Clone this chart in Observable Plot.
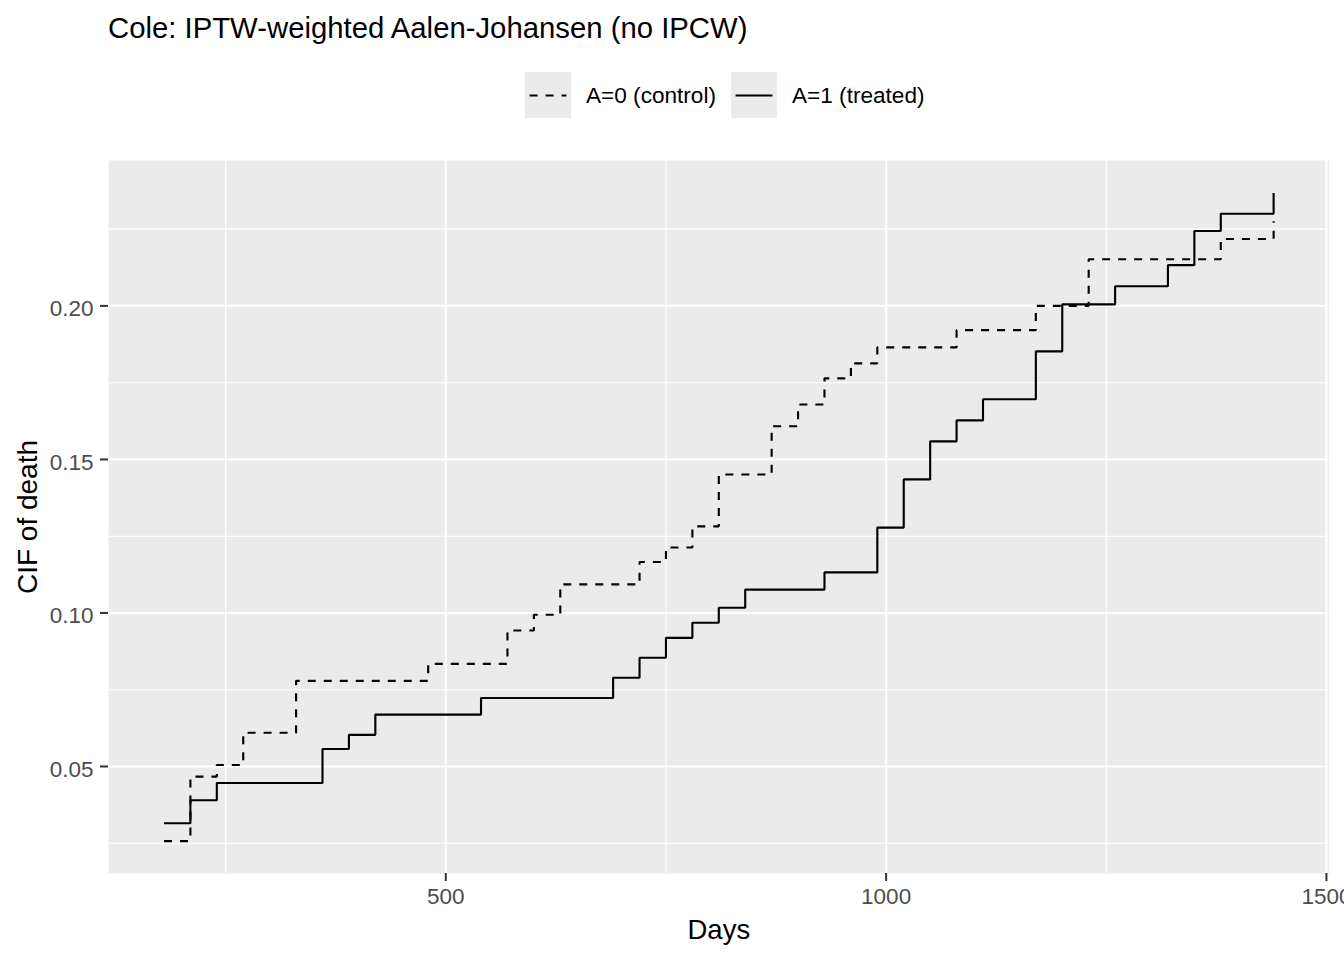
<!DOCTYPE html>
<html>
<head>
<meta charset="utf-8">
<script src="https://cdn.jsdelivr.net/npm/d3@7"></script>
<script src="https://cdn.jsdelivr.net/npm/@observablehq/plot@0.6"></script>
<style>
  html, body { margin: 0; padding: 0; background: #ffffff; }
  body { font-family: "Liberation Sans", Arial, sans-serif; }
  #wrap { position: relative; width: 1344px; height: 960px; overflow: hidden; background: #fff; }
  #header { position: relative; width: 1344px; height: 130px; }
  .t { position: absolute; white-space: nowrap; line-height: 1; color: #000; }
  .key { position: absolute; width: 46px; height: 46px; }
  #chart svg { display: block; }
  #ylab { position: absolute; white-space: nowrap; line-height: 1; color: #000; font-size: 28px;
          left: 27.8px; top: 516.5px; transform: translate(-50%, -50%) rotate(-90deg); }
</style>
</head>
<body>
<div id="wrap">
  <div id="header"></div>
  <div id="chart"></div>
  <div id="ylab"></div>
</div>
<script>
// ---- data ----
const titleText = "Cole: IPTW-weighted Aalen-Johansen (no IPCW)";
const xLabel = "Days";
const yLabel = "CIF of death";
const seriesNames = ["A=0 (control)", "A=1 (treated)"];

const controlDays = [180, 210, 240, 270, 330, 480, 570, 600, 630, 720, 750, 780, 810, 870, 900, 930, 960, 990, 1080, 1170, 1230, 1380, 1440];
const controlCif  = [0.0257, 0.0467, 0.0505, 0.0610, 0.0779, 0.0834, 0.0943, 0.0994, 0.1093, 0.1166, 0.1213, 0.1282, 0.1451, 0.1608, 0.1679, 0.1764, 0.1813, 0.1865, 0.1921, 0.2000, 0.2152, 0.2218, 0.2276];

const treatedDays = [180, 210, 240, 360, 390, 420, 540, 690, 720, 750, 780, 810, 840, 930, 990, 1020, 1050, 1080, 1110, 1170, 1200, 1260, 1320, 1350, 1380, 1440];
const treatedCif  = [0.0315, 0.0390, 0.0446, 0.0557, 0.0603, 0.0669, 0.0723, 0.0789, 0.0854, 0.0919, 0.0968, 0.1017, 0.1076, 0.1132, 0.1278, 0.1435, 0.1559, 0.1627, 0.1696, 0.1852, 0.2005, 0.2064, 0.2133, 0.2244, 0.2300, 0.2368];

const xBreaks = [500, 1000, 1500];
const xMinor = [250, 750, 1250];
const yBreaks = [0.05, 0.10, 0.15, 0.20];
const yMinor = [0.025, 0.075, 0.125, 0.175, 0.225];

// ---- tables built from the arrays ----
const control = controlDays.map((d, i) => ({day: d, cif: controlCif[i]}));
const treated = treatedDays.map((d, i) => ({day: d, cif: treatedCif[i]}));

function expand(vals) {
  const [a, b] = d3.extent(vals);
  const p = (b - a) * 0.05;
  return [a - p, b + p];
}
const xDomain = expand(controlDays.concat(treatedDays));
const yDomain = expand(controlCif.concat(treatedCif));

// ---- header: title + legend ----
const header = document.getElementById("header");
function addText(txt, left, top, size, color) {
  const el = document.createElement("div");
  el.className = "t";
  el.textContent = txt;
  el.style.left = left + "px";
  el.style.top = top + "px";
  el.style.fontSize = size + "px";
  el.style.color = color || "#000";
  header.appendChild(el);
  return el;
}
addText(titleText, 108, 13, 29.3, "#000");

function addKey(left, dashed) {
  const ns = "http://www.w3.org/2000/svg";
  const svg = document.createElementNS(ns, "svg");
  svg.setAttribute("class", "key");
  svg.setAttribute("width", 46);
  svg.setAttribute("height", 46);
  svg.style.left = left + "px";
  svg.style.top = "72px";
  const r = document.createElementNS(ns, "rect");
  r.setAttribute("width", 46); r.setAttribute("height", 46); r.setAttribute("fill", "#EBEBEB");
  svg.appendChild(r);
  const l = document.createElementNS(ns, "line");
  l.setAttribute("x1", 4.6); l.setAttribute("x2", 41.4);
  l.setAttribute("y1", 23.5); l.setAttribute("y2", 23.5);
  l.setAttribute("stroke", "#000"); l.setAttribute("stroke-width", 2.1);
  if (dashed) l.setAttribute("stroke-dasharray", "8,8");
  svg.appendChild(l);
  header.appendChild(svg);
}
addKey(525, true);
addText(seriesNames[0], 586, 85, 22.6, "#000");
addKey(731, false);
addText(seriesNames[1], 792, 85, 22.6, "#000");

document.getElementById("ylab").textContent = yLabel;

// ---- chart ----
const lw = 2.13;
const chart = Plot.plot({
  width: 1344,
  height: 830,
  marginTop: 30,
  marginBottom: 87,
  marginLeft: 108,
  marginRight: 15.4,
  style: {fontFamily: "'Liberation Sans', Arial, sans-serif", background: "#ffffff", overflow: "visible"},
  x: {domain: xDomain},
  y: {domain: yDomain},
  marks: [
    Plot.frame({fill: "#EBEBEB", stroke: null}),
    Plot.gridX(xMinor, {stroke: "#ffffff", strokeOpacity: 1, strokeWidth: 1.07}),
    Plot.gridY(yMinor, {stroke: "#ffffff", strokeOpacity: 1, strokeWidth: 1.07}),
    Plot.gridX(xBreaks, {stroke: "#ffffff", strokeOpacity: 1, strokeWidth: lw}),
    Plot.gridY(yBreaks, {stroke: "#ffffff", strokeOpacity: 1, strokeWidth: lw}),
    Plot.line(control, {x: "day", y: "cif", curve: "step-after", stroke: "#000", strokeWidth: lw,
      strokeDasharray: "8,8", strokeLinecap: "butt", strokeLinejoin: "miter"}),
    Plot.line(treated, {x: "day", y: "cif", curve: "step-after", stroke: "#000", strokeWidth: lw,
      strokeLinecap: "butt", strokeLinejoin: "miter"}),
    // x axis
    Plot.axisX(xBreaks, {tickSize: 8, tickPadding: 7, tickFormat: d => String(d), fontSize: 22.5,
      stroke: "#333333", fill: "#4D4D4D", strokeWidth: 2, label: null}),
    // y axis ticks
    Plot.axisY(yBreaks, {tickSize: 8, tickFormat: () => "", stroke: "#333333", strokeWidth: 2, label: null}),
    // y axis tick labels
    Plot.axisY(yBreaks, {tickSize: 0, tickPadding: 15, dy: 3, tickFormat: d3.format(".2f"), fontSize: 22.5,
      fill: "#4D4D4D", label: null}),
    // x axis title
    Plot.text([xLabel], {text: d => d, frameAnchor: "bottom", dy: 65, fontSize: 27.5, fill: "#000"})
  ]
});
document.getElementById("chart").appendChild(chart);
</script>
</body>
</html>
